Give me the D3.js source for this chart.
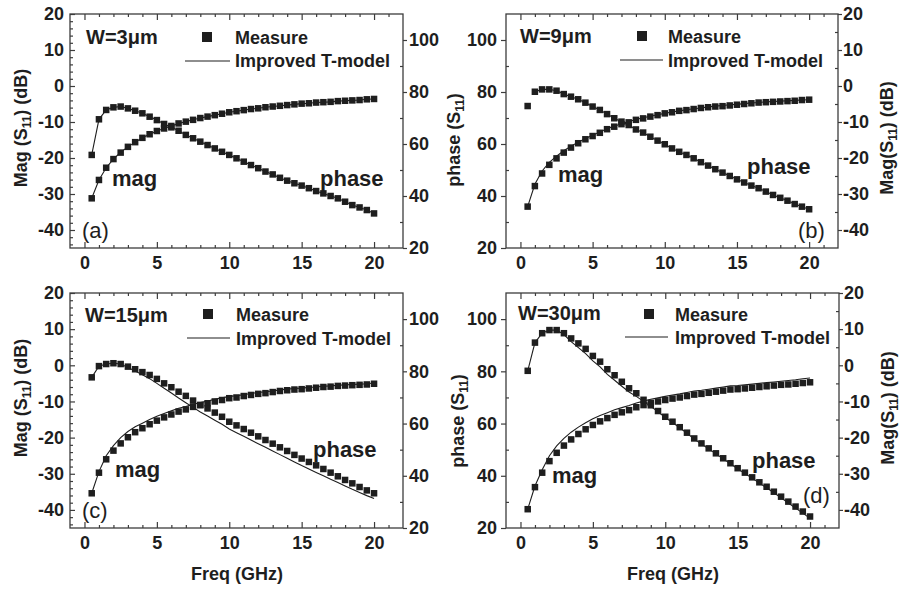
<!DOCTYPE html>
<html>
<head>
<meta charset="utf-8">
<script src="https://cdn.jsdelivr.net/npm/d3@7"></script>
<style>
  body { margin: 0; background: #fff; }
  svg { display: block; font-family: "Liberation Sans", Arial, sans-serif; }
  .axis text { font-size: 18px; font-weight: bold; fill: #1e1e1e; font-family: "Liberation Sans", Arial, sans-serif; }
  .axis line { stroke: #3c3c3c; stroke-width: 1.2; }
</style>
</head>
<body>
<svg id="fig" width="901" height="590"></svg>
<script>
// frequency points (GHz), shared by every panel
const freq = [0.5, 1, 1.5, 2, 2.5, 3, 3.5, 4, 4.5, 5, 5.5, 6, 6.5, 7, 7.5, 8, 8.5, 9, 9.5, 10,
  10.5, 11, 11.5, 12, 12.5, 13, 13.5, 14, 14.5, 15, 15.5, 16, 16.5, 17, 17.5, 18, 18.5, 19, 19.5, 20];

// (a) W=3um
const magA = [-31.2, -26.1, -22.7, -20.3, -18.5, -16.9, -15.6, -14.4, -13.4, -12.5, -11.8, -11.1, -10.4, -9.9, -9.4, -8.9, -8.5, -8.1, -7.7, -7.3,
  -7.0, -6.7, -6.4, -6.2, -5.9, -5.7, -5.5, -5.3, -5.1, -4.9, -4.8, -4.6, -4.5, -4.4, -4.2, -4.1, -4.0, -3.9, -3.7, -3.6];
const magFitA = [-31.2, -26.1, -22.7, -20.3, -18.4, -16.9, -15.6, -14.4, -13.4, -12.5, -11.8, -11.1, -10.4, -9.9, -9.4, -8.9, -8.5, -8.1, -7.7, -7.3,
  -7.0, -6.7, -6.4, -6.2, -5.9, -5.7, -5.5, -5.3, -5.1, -4.9, -4.8, -4.6, -4.5, -4.4, -4.2, -4.1, -4.0, -3.9, -3.7, -3.6];
const phaseA = [55.8, 69.5, 73.1, 74.1, 74.4, 73.7, 72.8, 71.8, 70.5, 69.2, 67.7, 66.4, 65.1, 63.5, 62.2, 60.9, 59.6, 58.3, 57.0, 55.8,
  54.5, 53.2, 51.9, 50.7, 49.4, 48.3, 47.0, 45.9, 44.9, 44.0, 43.0, 41.9, 41.0, 40.0, 39.1, 37.8, 36.5, 35.6, 34.6, 33.3];
const phaseFitA = [55.8, 69.5, 73.1, 74.1, 74.4, 73.7, 72.8, 71.8, 70.5, 69.2, 67.7, 66.4, 65.1, 63.5, 62.2, 60.9, 59.6, 58.3, 57.0, 55.8,
  54.5, 53.2, 51.9, 50.7, 49.4, 48.3, 47.0, 45.9, 44.9, 44.0, 43.0, 41.9, 41.0, 40.0, 39.1, 37.8, 36.5, 35.6, 34.6, 33.3];

// (b) W=9um
const magB = [-33.5, -27.8, -24.3, -21.9, -20.1, -18.5, -17.1, -15.9, -14.8, -13.9, -13.0, -12.0, -11.3, -10.6, -10.1, -9.4, -9.0, -8.5, -8.1, -7.6,
  -7.3, -6.9, -6.7, -6.4, -6.1, -5.9, -5.7, -5.6, -5.4, -5.2, -5.0, -4.8, -4.6, -4.5, -4.4, -4.3, -4.2, -4.1, -3.9, -3.8];
const magFitB = [-33.5, -27.3, -23.6, -21.2, -19.5, -18.0, -16.7, -15.6, -14.6, -13.7, -12.8, -11.9, -11.2, -10.5, -9.9, -9.3, -8.8, -8.4, -8.0, -7.6,
  -7.2, -6.9, -6.6, -6.3, -6.1, -5.8, -5.6, -5.4, -5.2, -5.1, -4.9, -4.7, -4.6, -4.4, -4.3, -4.2, -4.1, -4.0, -3.9, -3.8];
const phaseB = [74.6, 80.1, 81.0, 81.0, 80.5, 79.2, 78.2, 77.2, 75.9, 74.4, 73.1, 71.5, 69.9, 68.6, 67.3, 65.6, 64.4, 62.8, 61.3, 59.9,
  58.3, 57.0, 55.8, 54.5, 53.0, 51.7, 50.3, 49.0, 47.7, 46.4, 45.2, 44.0, 43.0, 41.7, 40.4, 39.3, 38.2, 36.9, 35.9, 34.9];
const phaseFitB = [null, 80.1, 81.0, 81.0, 80.5, 79.2, 78.2, 77.2, 75.9, 74.4, 73.1, 71.5, 69.9, 68.6, 67.3, 65.6, 64.4, 62.8, 61.3, 59.9,
  58.3, 57.0, 55.8, 54.5, 53.0, 51.7, 50.3, 49.0, 47.7, 46.4, 45.2, 44.0, 43.0, 41.7, 40.4, 39.3, 38.2, 36.9, 35.9, 34.9];

// (c) W=15um
const magC = [-35.4, -29.7, -26.0, -23.6, -21.6, -19.9, -18.5, -17.4, -16.3, -15.3, -14.4, -13.6, -12.8, -12.2, -11.5, -11.0, -10.5, -10.0, -9.6, -9.1,
  -8.9, -8.5, -8.2, -7.9, -7.7, -7.4, -7.1, -6.9, -6.7, -6.6, -6.4, -6.2, -6.0, -5.9, -5.7, -5.6, -5.5, -5.4, -5.3, -5.1];
const magFitC = [-35.4, -29.4, -25.0, -22.2, -20.0, -18.3, -17.0, -16.0, -15.0, -14.1, -13.3, -12.6, -11.9, -11.4, -10.8, -10.3, -9.9, -9.4, -9.0, -8.6,
  -8.4, -8.1, -7.8, -7.5, -7.3, -7.1, -6.8, -6.6, -6.4, -6.3, -6.1, -6.0, -5.8, -5.7, -5.5, -5.4, -5.3, -5.2, -5.1, -4.9];
const phaseC = [77.7, 82.0, 82.8, 83.1, 82.8, 81.8, 80.8, 79.7, 78.6, 77.1, 75.4, 73.9, 72.2, 70.6, 68.8, 67.1, 65.8, 64.2, 62.6, 60.7,
  59.3, 57.9, 56.5, 55.1, 53.7, 52.3, 50.9, 49.5, 48.0, 46.6, 45.3, 44.0, 42.6, 41.2, 39.8, 38.4, 37.1, 35.7, 34.4, 33.3];
const phaseFitC = [77.7, 82.0, 82.8, 83.1, 82.8, 81.5, 80.1, 78.7, 77.2, 75.4, 73.5, 71.7, 69.8, 68.0, 66.2, 64.4, 62.9, 61.3, 59.7, 57.9,
  56.5, 55.1, 53.7, 52.3, 50.9, 49.5, 48.1, 46.7, 45.3, 43.9, 42.6, 41.3, 40.0, 38.7, 37.4, 36.1, 34.8, 33.6, 32.4, 31.3];

// (d) W=30um
const magD = [-39.8, -33.7, -29.7, -26.5, -24.2, -22.2, -20.5, -19.0, -17.7, -16.5, -15.5, -14.6, -13.7, -13.0, -12.4, -11.6, -11.0, -10.4, -10.0, -9.6,
  -9.2, -8.9, -8.5, -8.1, -7.9, -7.6, -7.3, -7.0, -6.7, -6.6, -6.4, -6.2, -6.0, -5.8, -5.6, -5.4, -5.3, -5.1, -4.9, -4.7];
const magFitD = [-39.8, -33.4, -28.9, -25.0, -22.3, -20.2, -18.5, -17.1, -15.9, -14.8, -13.9, -13.1, -12.3, -11.7, -11.1, -10.4, -9.9, -9.4, -9.0, -8.6,
  -8.2, -7.9, -7.5, -7.1, -6.9, -6.6, -6.3, -6.0, -5.7, -5.6, -5.4, -5.2, -5.0, -4.8, -4.6, -4.4, -4.2, -4.0, -3.7, -3.5];
const phaseD = [80.2, 91.0, 94.6, 95.8, 95.8, 94.6, 92.6, 90.7, 88.6, 85.9, 83.7, 80.8, 78.5, 76.0, 73.5, 71.6, 69.1, 67.0, 64.8, 62.6,
  60.7, 58.6, 56.5, 54.3, 52.4, 50.5, 48.6, 46.7, 44.8, 42.9, 41.2, 39.4, 37.5, 35.8, 33.9, 32.0, 30.1, 28.2, 26.3, 24.4];
const phaseFitD = [80.2, 91.0, 94.6, 95.8, 95.8, 94.1, 91.4, 89.1, 86.8, 84.0, 81.7, 78.8, 76.6, 74.3, 72.1, 70.4, 68.5, 66.6, 64.5, 62.3,
  60.4, 58.4, 56.3, 54.1, 52.2, 50.3, 48.4, 46.5, 44.6, 42.7, 40.9, 39.1, 37.2, 35.4, 33.5, 31.6, 29.6, 27.6, 25.7, 23.7];

// axes
const freqDomain = [-1, 22];
const magDomain = [-45, 20];
const phaseDomain = [20, 110];
const freqTicks = [0, 5, 10, 15, 20];
const magTicks = [-40, -30, -20, -10, 0, 10, 20];
const phaseTicks = [20, 40, 60, 80, 100];

const ink = '#1e1e1e';
const frameColor = '#3c3c3c';

const panels = [
  { tag: '(a)', width: 'W=3\u03bcm', box: [70, 14, 403, 248], magSide: 'left',
    mag: magA, magFit: magFitA, phase: phaseA, phaseFit: phaseFitA,
    wPos: [86, 44], markPos: [207, 37], measPos: [235, 44], linePos: [185, 230, 61], fitPos: [235, 67],
    magLab: [112, 186], phaseLab: [320, 186], tagPos: [82, 238],
    magTitle: [27, 128] },
  { tag: '(b)', width: 'W=9\u03bcm', box: [506, 14, 838, 248], magSide: 'right',
    mag: magB, magFit: magFitB, phase: phaseB, phaseFit: phaseFitB,
    wPos: [520, 43], markPos: [642, 36], measPos: [668, 43], linePos: [620, 663, 60], fitPos: [668, 67],
    magLab: [558, 182], phaseLab: [747, 174], tagPos: [798, 238],
    magTitle: [893, 138], phaseTitle: [460, 140] },
  { tag: '(c)', width: 'W=15\u03bcm', box: [70, 293, 403, 528], magSide: 'left',
    mag: magC, magFit: magFitC, phase: phaseC, phaseFit: phaseFitC,
    wPos: [85, 322], markPos: [208, 314], measPos: [236, 321], linePos: [187, 230, 338], fitPos: [236, 345],
    magLab: [115, 477], phaseLab: [313, 457], tagPos: [82, 518],
    magTitle: [27, 398], freqTitle: [237, 580] },
  { tag: '(d)', width: 'W=30\u03bcm', box: [506, 293, 839, 528], magSide: 'right',
    mag: magD, magFit: magFitD, phase: phaseD, phaseFit: phaseFitD,
    wPos: [518, 320], markPos: [649, 314], measPos: [675, 321], linePos: [625, 668, 337], fitPos: [675, 344],
    magLab: [552, 483], phaseLab: [752, 468], tagPos: [803, 503],
    magTitle: [894, 408], phaseTitle: [464, 421], freqTitle: [673, 580] }
];

const svg = d3.select('#fig');
// plain hyphen minus, as in the original figure
const fmt = d => String(d);

function text(g, pos, str, size, weight, anchor) {
  return g.append('text')
    .attr('x', pos[0]).attr('y', pos[1])
    .attr('font-size', size).attr('font-weight', weight || 'bold')
    .attr('text-anchor', anchor || 'start')
    .attr('fill', ink)
    .text(str);
}

// rotated axis title with a subscript
function vTitle(g, pos, before, sub, after) {
  const t = g.append('text')
    .attr('transform', `translate(${pos[0]},${pos[1]}) rotate(-90)`)
    .attr('text-anchor', 'middle')
    .attr('font-size', 18).attr('font-weight', 'bold').attr('fill', ink);
  t.append('tspan').text(before);
  t.append('tspan').attr('font-size', 12).attr('dy', 4).text(sub);
  t.append('tspan').attr('dy', -4).text(after);
}

function drawPanel(p) {
  const [x0, y0, x1, y1] = p.box;
  const x = d3.scaleLinear().domain(freqDomain).range([x0, x1]);
  const yMag = d3.scaleLinear().domain(magDomain).range([y1, y0]);
  const yPhase = d3.scaleLinear().domain(phaseDomain).range([y1, y0]);
  const g = svg.append('g');

  const noDomain = a => a.select('.domain').remove();
  const minorFreq = d3.range(1, 22).filter(v => v % 5 !== 0);

  // bottom and top
  g.append('g').attr('class', 'axis').attr('transform', `translate(0,${y1})`)
    .call(d3.axisBottom(x).tickValues(freqTicks).tickFormat(fmt).tickSizeInner(-6).tickSizeOuter(0).tickPadding(8))
    .call(noDomain);
  g.append('g').attr('class', 'axis').attr('transform', `translate(0,${y1})`)
    .call(d3.axisBottom(x).tickValues(minorFreq).tickSizeInner(-3).tickSizeOuter(0).tickFormat(''))
    .call(noDomain);
  g.append('g').attr('class', 'axis').attr('transform', `translate(0,${y0})`)
    .call(d3.axisTop(x).tickValues(freqTicks).tickSizeInner(-6).tickSizeOuter(0).tickFormat(''))
    .call(noDomain);
  g.append('g').attr('class', 'axis').attr('transform', `translate(0,${y0})`)
    .call(d3.axisTop(x).tickValues(minorFreq).tickSizeInner(-3).tickSizeOuter(0).tickFormat(''))
    .call(noDomain);

  // magnitude axis
  if (p.magSide === 'left') {
    g.append('g').attr('class', 'axis').attr('transform', `translate(${x0},0)`)
      .call(d3.axisLeft(yMag).tickValues(magTicks).tickFormat(fmt).tickSizeInner(-5).tickSizeOuter(0).tickPadding(6))
      .call(noDomain);
    g.append('g').attr('class', 'axis').attr('transform', `translate(${x0},0)`)
      .call(d3.axisLeft(yMag).tickValues(d3.range(-44, 20, 2).filter(v => v % 10 !== 0))
        .tickSizeInner(-3).tickSizeOuter(0).tickFormat(''))
      .call(noDomain);
    // phase on the right
    g.append('g').attr('class', 'axis').attr('transform', `translate(${x1},0)`)
      .call(d3.axisRight(yPhase).tickValues(phaseTicks).tickFormat(fmt).tickSizeInner(4).tickSizeOuter(0).tickPadding(2))
      .call(noDomain);
    g.append('g').attr('class', 'axis').attr('transform', `translate(${x1},0)`)
      .call(d3.axisRight(yPhase).tickValues([30, 50, 70, 90]).tickSizeInner(-3).tickSizeOuter(0).tickFormat(''))
      .call(noDomain);
  } else {
    g.append('g').attr('class', 'axis').attr('transform', `translate(${x1},0)`)
      .call(d3.axisRight(yMag).tickValues(magTicks).tickFormat(fmt).tickSizeInner(4).tickSizeOuter(0).tickPadding(1))
      .call(noDomain);
    g.append('g').attr('class', 'axis').attr('transform', `translate(${x1},0)`)
      .call(d3.axisRight(yMag).tickValues([-35, -25, -15, -5, 5, 15])
        .tickSizeInner(-3).tickSizeOuter(0).tickFormat(''))
      .call(noDomain);
    // phase on the left
    g.append('g').attr('class', 'axis').attr('transform', `translate(${x0},0)`)
      .call(d3.axisLeft(yPhase).tickValues(phaseTicks).tickFormat(fmt).tickSizeInner(5).tickSizeOuter(0).tickPadding(4))
      .call(noDomain);
    g.append('g').attr('class', 'axis').attr('transform', `translate(${x0},0)`)
      .call(d3.axisLeft(yPhase).tickValues([30, 50, 70, 90]).tickSizeInner(-3).tickSizeOuter(0).tickFormat(''))
      .call(noDomain);
  }

  g.append('rect')
    .attr('x', x0).attr('y', y0).attr('width', x1 - x0).attr('height', y1 - y0)
    .attr('fill', 'none').attr('stroke', frameColor).attr('stroke-width', 1.3);

  // model curves
  const line = (yScale) => d3.line()
    .defined(d => d[1] != null)
    .x(d => x(d[0])).y(d => yScale(d[1]));
  const zip = arr => freq.map((f, i) => [f, arr[i]]);

  g.append('path').datum(zip(p.magFit))
    .attr('d', line(yMag)).attr('fill', 'none').attr('stroke', ink).attr('stroke-width', 1.1);
  g.append('path').datum(zip(p.phaseFit))
    .attr('d', line(yPhase)).attr('fill', 'none').attr('stroke', ink).attr('stroke-width', 1.1);

  // measured squares
  const s = 6.5;
  [[p.mag, yMag], [p.phase, yPhase]].forEach(([arr, yScale]) => {
    g.append('g').selectAll('rect')
      .data(zip(arr))
      .join('rect')
      .attr('x', d => x(d[0]) - s / 2)
      .attr('y', d => yScale(d[1]) - s / 2)
      .attr('width', s).attr('height', s)
      .attr('fill', ink);
  });

  // legend
  text(g, p.wPos, p.width, 20);
  g.append('rect')
    .attr('x', p.markPos[0] - 5).attr('y', p.markPos[1] - 5)
    .attr('width', 10).attr('height', 10).attr('fill', ink);
  text(g, p.measPos, 'Measure', 18);
  g.append('line')
    .attr('x1', p.linePos[0]).attr('x2', p.linePos[1])
    .attr('y1', p.linePos[2]).attr('y2', p.linePos[2])
    .attr('stroke', ink).attr('stroke-width', 1.1);
  text(g, p.fitPos, 'Improved T-model', 18);

  text(g, p.magLab, 'mag', 22);
  text(g, p.phaseLab, 'phase', 22);
  text(g, p.tagPos, p.tag, 22, 'normal');

  // titles
  if (p.magSide === 'left') vTitle(g, p.magTitle, 'Mag (S', '11', ') (dB)');
  else vTitle(g, p.magTitle, 'Mag(S', '11', ') (dB)');
  if (p.phaseTitle) vTitle(g, p.phaseTitle, 'phase (S', '11', ')');
  if (p.freqTitle) text(g, p.freqTitle, 'Freq (GHz)', 18, 'bold', 'middle');
}

panels.forEach(drawPanel);
</script>
</body>
</html>
